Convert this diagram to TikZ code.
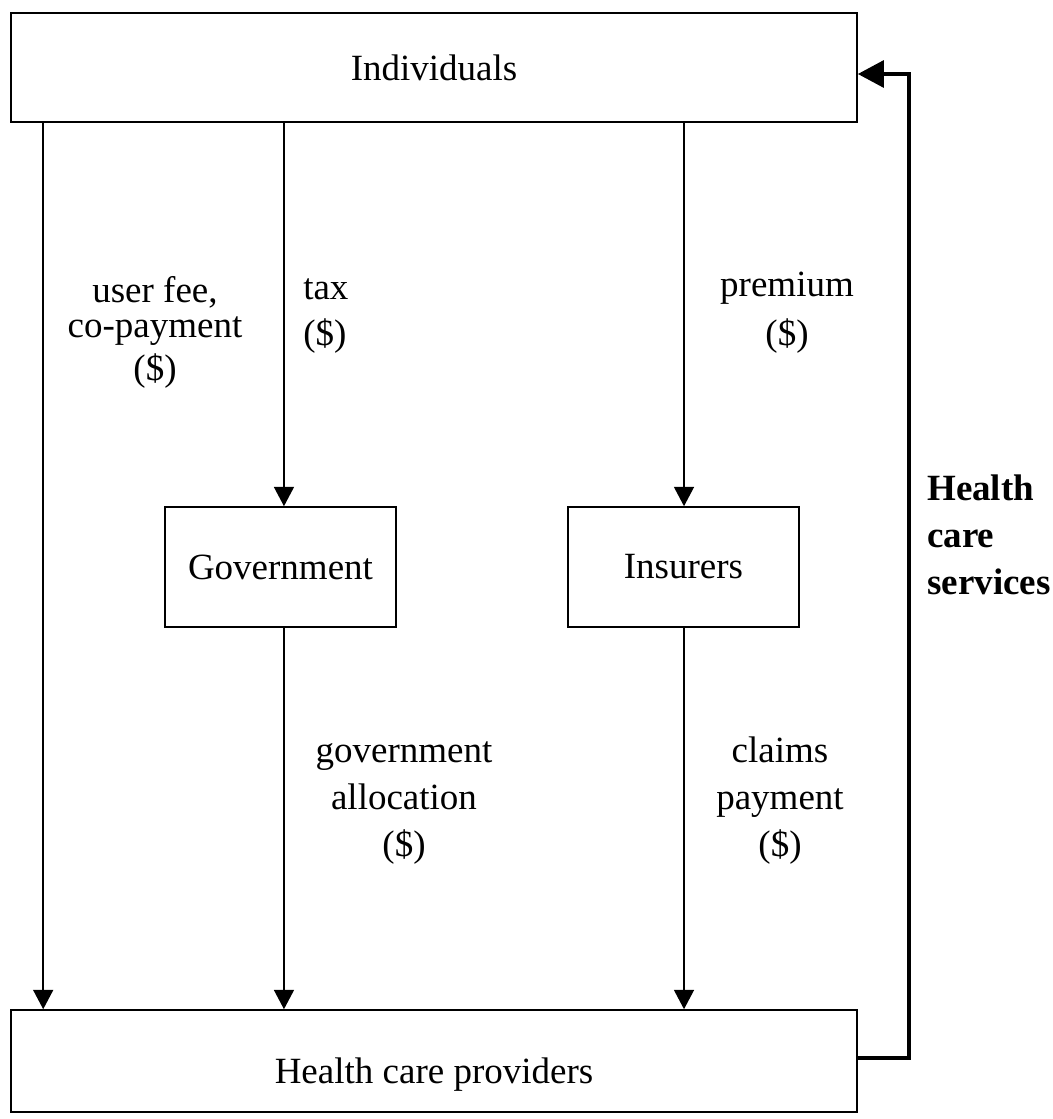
\documentclass[tikz,border=0pt]{standalone}
\usepackage{fontspec}
\setmainfont{Liberation Serif}
\usetikzlibrary{arrows.meta}
\begin{document}
\begin{tikzpicture}[x=0.75pt,y=-0.75pt,
  every node/.style={font=\fontsize{27.75}{35.25}\selectfont},
  box/.style={draw,line width=1.2pt,inner sep=0pt,rectangle},
  lbl/.style={inner sep=0pt,anchor=base},
  lblw/.style={inner sep=0pt,anchor=base west},
  flow/.style={line width=1.2pt,-{Triangle[length=14.5pt,width=15pt]}},
  back/.style={line width=3pt,-{Triangle[length=19.5pt,width=20pt]}}]
\useasboundingbox (0,0) rectangle (1052,1119);
% boxes
\node[box,minimum width=634.5pt,minimum height=81.75pt] (ind) at (434,67.5) {Individuals};
\node[box,minimum width=173.25pt,minimum height=90pt] (gov) at (280.5,567) {Government};
\node[box,minimum width=173.25pt,minimum height=90pt] (ins) at (683.5,567) {Insurers};
\node[box,minimum width=634.5pt,minimum height=76.5pt] (prov) at (434,1061) {};
\node[lbl] (provtext) at (434,1083) {Health care providers};
% connectors
\coordinate (gt) at ([xshift=2.6pt]gov.north);
\coordinate (gb) at ([xshift=2.6pt]gov.south);
\coordinate (it) at ([xshift=0.375pt]ins.north);
\coordinate (ib) at ([xshift=0.375pt]ins.south);
\draw[flow] ([xshift=24.75pt]ind.south west) -- ([xshift=24.75pt]prov.north west);
\draw[flow] (gt |- ind.south) -- (gt);
\draw[flow] (gb) -- (gb |- prov.north);
\draw[flow] (it |- ind.south) -- (it);
\draw[flow] (ib) -- (ib |- prov.north);
\draw[back] ([yshift=2.25pt]prov.east) -- ++(38.25pt,0) |- ([yshift=-4.875pt]ind.east);
% labels
\node[lbl] (l1) at (155,303) {\begin{tabular}[t]{@{}c@{}}user fee,\\[-9pt]co-payment\\[-3pt](\$)\end{tabular}};
\node[lblw] (l2) at (303,300) {\begin{tabular}[t]{@{}l@{}}tax\\[-1pt](\$)\end{tabular}};
\node[lbl] (l3) at (787,297) {\begin{tabular}[t]{@{}c@{}}premium\\[1pt](\$)\end{tabular}};
\node[lbl] (l4) at (404,762) {\begin{tabular}[t]{@{}c@{}}government\\allocation\\(\$)\end{tabular}};
\node[lbl] (l5) at (780,762) {\begin{tabular}[t]{@{}c@{}}claims\\payment\\(\$)\end{tabular}};
\node[lblw] (l6) at (927,500) {\bfseries\begin{tabular}[t]{@{}l@{}}Health\\care\\services\end{tabular}};
\end{tikzpicture}
\end{document}
